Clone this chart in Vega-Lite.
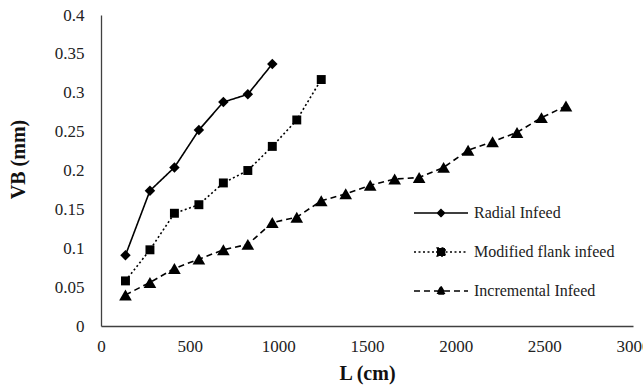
{
  "$schema": "https://vega.github.io/schema/vega-lite/v6.json",
  "width": 532,
  "height": 311,
  "autosize": "none",
  "padding": {"left": 101, "top": 15, "right": 10, "bottom": 66},
  "background": "white",
  "config": {
    "view": {"stroke": null},
    "font": "Liberation Serif",
    "axis": {"grid": false, "ticks": false, "domainColor": "#404040", "domainWidth": 1.3, "labelColor": "#222", "labelFont": "Liberation Serif", "labelFontSize": 17, "titleFont": "Liberation Serif", "titleFontSize": 20, "titleFontWeight": "bold", "titleColor": "#111"},
    "legend": {"labelFont": "Liberation Serif"}
  },
  "datasets": {
    "pts": [
      {"series": "Radial Infeed", "L": 138, "VB": 0.091},
      {"series": "Radial Infeed", "L": 276, "VB": 0.174},
      {"series": "Radial Infeed", "L": 414, "VB": 0.204},
      {"series": "Radial Infeed", "L": 552, "VB": 0.252},
      {"series": "Radial Infeed", "L": 690, "VB": 0.288},
      {"series": "Radial Infeed", "L": 828, "VB": 0.298},
      {"series": "Radial Infeed", "L": 966, "VB": 0.337},
      {"series": "Modified flank infeed", "L": 138, "VB": 0.058},
      {"series": "Modified flank infeed", "L": 276, "VB": 0.098},
      {"series": "Modified flank infeed", "L": 414, "VB": 0.145},
      {"series": "Modified flank infeed", "L": 552, "VB": 0.156},
      {"series": "Modified flank infeed", "L": 690, "VB": 0.184},
      {"series": "Modified flank infeed", "L": 828, "VB": 0.200},
      {"series": "Modified flank infeed", "L": 966, "VB": 0.231},
      {"series": "Modified flank infeed", "L": 1104, "VB": 0.265},
      {"series": "Modified flank infeed", "L": 1242, "VB": 0.317},
      {"series": "Incremental Infeed", "L": 138, "VB": 0.040},
      {"series": "Incremental Infeed", "L": 276, "VB": 0.056},
      {"series": "Incremental Infeed", "L": 414, "VB": 0.074},
      {"series": "Incremental Infeed", "L": 552, "VB": 0.086},
      {"series": "Incremental Infeed", "L": 690, "VB": 0.098},
      {"series": "Incremental Infeed", "L": 828, "VB": 0.105},
      {"series": "Incremental Infeed", "L": 966, "VB": 0.133},
      {"series": "Incremental Infeed", "L": 1104, "VB": 0.140},
      {"series": "Incremental Infeed", "L": 1242, "VB": 0.161},
      {"series": "Incremental Infeed", "L": 1380, "VB": 0.170},
      {"series": "Incremental Infeed", "L": 1518, "VB": 0.181},
      {"series": "Incremental Infeed", "L": 1656, "VB": 0.189},
      {"series": "Incremental Infeed", "L": 1794, "VB": 0.191},
      {"series": "Incremental Infeed", "L": 1932, "VB": 0.204},
      {"series": "Incremental Infeed", "L": 2070, "VB": 0.226},
      {"series": "Incremental Infeed", "L": 2208, "VB": 0.237},
      {"series": "Incremental Infeed", "L": 2346, "VB": 0.249},
      {"series": "Incremental Infeed", "L": 2484, "VB": 0.268},
      {"series": "Incremental Infeed", "L": 2622, "VB": 0.283}
    ]
  },
  "data": {"name": "pts"},
  "encoding": {
    "x": {
      "field": "L", "type": "quantitative", "title": "L (cm)",
      "scale": {"domain": [0, 3000], "nice": false},
      "axis": {"values": [0, 500, 1000, 1500, 2000, 2500, 3000], "format": "d", "labelFlush": false, "labelBound": false, "labelOverlap": false, "labelPadding": 12, "titlePadding": 9}
    },
    "y": {
      "field": "VB", "type": "quantitative", "title": "VB (mm)",
      "scale": {"domain": [0, 0.4], "nice": false},
      "axis": {"values": [0, 0.05, 0.1, 0.15, 0.2, 0.25, 0.3, 0.35, 0.4], "format": "~g", "labelPadding": 17, "titlePadding": 26, "titleY": 144, "labelFlush": false, "labelBound": false, "labelOverlap": false}
    }
  },
  "layer": [
    {
      "mark": {"type": "line", "color": "black", "strokeWidth": 1.6},
      "encoding": {
        "detail": {"field": "series"},
        "strokeDash": {
          "field": "series", "type": "nominal",
          "scale": {"domain": ["Radial Infeed", "Modified flank infeed", "Incremental Infeed"], "range": [[1, 0], [2, 2.5], [6, 4]]},
          "legend": {
            "title": null,
            "orient": "none",
            "legendX": 332,
            "legendY": 190,
            "padding": 0,
            "symbolSize": 100,
            "symbolStrokeWidth": 1.5,
            "symbolStrokeColor": "black",
            "symbolFillColor": "black",
            "symbolOpacity": 1,
            "labelOffset": 25,
            "labelFontSize": 16,
            "labelFont": "Liberation Serif",
            "labelColor": "#222",
            "rowPadding": 23,
            "encode": {
              "symbols": {
                "update": {
                  "shape": {"signal": "datum.value === 'Radial Infeed' ? 'M-5.4,0L5.4,0M0,-0.7L0.7,0L0,0.7L-0.7,0Z' : datum.value === 'Modified flank infeed' ? 'M-5.4,0L5.4,0M-0.8,-0.8L0.8,-0.8L0.8,0.8L-0.8,0.8Z' : 'M-5.4,0L5.4,0M0,-0.9L0.9,0.6L-0.9,0.6Z'"},
                  "fill": {"value": "black"},
                  "stroke": {"value": "black"},
                  "strokeWidth": {"value": 1.5},
                  "strokeOpacity": {"value": 1},
                  "opacity": {"value": 1}
                }
              }
            }
          }
        }
      }
    },
    {
      "transform": [{"filter": "datum.series === 'Radial Infeed'"}],
      "mark": {"type": "point", "filled": true, "color": "black", "opacity": 1, "shape": "diamond", "size": 110}
    },
    {
      "transform": [{"filter": "datum.series === 'Modified flank infeed'"}],
      "mark": {"type": "point", "filled": true, "color": "black", "opacity": 1, "shape": "square", "size": 80}
    },
    {
      "transform": [{"filter": "datum.series === 'Incremental Infeed'"}],
      "mark": {"type": "point", "filled": true, "color": "black", "opacity": 1, "shape": "triangle-up", "size": 160}
    }
  ]
}
